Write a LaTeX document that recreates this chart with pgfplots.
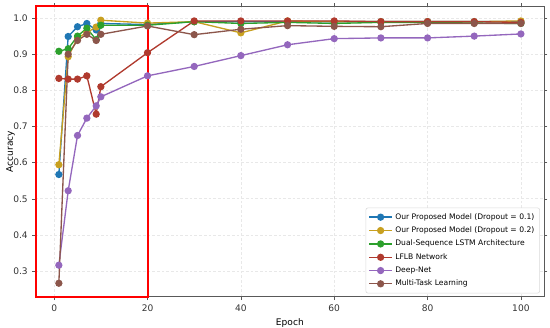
\documentclass[border=0pt]{standalone}
\usepackage{fontspec}
\setmainfont{DejaVu Sans}
\usepackage{pgfplots}
\pgfplotsset{compat=1.18}
\definecolor{tabblue}{HTML}{1F77B4}
\definecolor{taborange}{HTML}{C8A020}
\definecolor{tabgreen}{HTML}{2CA02C}
\definecolor{tabred}{HTML}{B03A2E}
\definecolor{tabpurple}{HTML}{9467BD}
\definecolor{tabbrown}{HTML}{8C564B}
\begin{document}
\begin{tikzpicture}
\begin{axis}[
  name=main,
  scale only axis,
  width=381pt, height=217.5pt,
  xmin=-3.95, xmax=104.95,
  ymin=0.2285, ymax=1.0315,
  xtick={0,20,40,60,80,100},
  ytick={0.3,0.4,0.5,0.6,0.7,0.8,0.9,1.0},
  yticklabel style={/pgf/number format/.cd,fixed,fixed zerofill,precision=1},
  /pgf/number format/assume math mode=true,
  tick label style={font=\fontsize{6.8}{8}\selectfont, color=black!80},
  label style={font=\fontsize{6.8}{8}\selectfont},
  xlabel={Epoch}, ylabel={Accuracy},
  xlabel style={yshift=2pt},
  ylabel style={at={(axis description cs:0,0.5)}, anchor=center, yshift=19pt},
  grid=major,
  major grid style={dash pattern=on 2pt off 1.5pt, gray!18, line width=0.4pt},
  axis line style={gray!70!black, line width=0.6pt},
  tick style={gray!70!black},
  tick align=outside,
  major tick length=2.5pt,
  clip=false,
  legend style={at={(0.992,0.012)}, anchor=south east, font=\fontsize{5.7}{7}\selectfont, draw=gray!30, rounded corners=1.5pt, row sep=0.2pt, inner sep=2pt},
  legend cell align=left,
  every axis plot/.append style={line width=1pt, mark=*, mark size=2.2pt},
]
\addplot[color=tabblue, mark options={fill=tabblue}] coordinates {
(1,0.567)(3,0.949)(5,0.976)(7,0.985)(9,0.967)(10,0.985)(20,0.982)(30,0.990)(40,0.990)(50,0.990)(60,0.990)(70,0.990)(80,0.990)(90,0.990)(100,0.990)};
\addlegendentry{Our Proposed Model (Dropout = 0.1)}
\addplot[color=taborange, mark options={fill=taborange}] coordinates {
(1,0.594)(3,0.893)(5,0.945)(7,0.960)(9,0.975)(10,0.994)(20,0.986)(30,0.990)(40,0.959)(50,0.992)(60,0.990)(70,0.990)(80,0.990)(90,0.990)(100,0.992)};
\addlegendentry{Our Proposed Model (Dropout = 0.2)}
\addplot[color=tabgreen, mark options={fill=tabgreen}] coordinates {
(1,0.908)(3,0.915)(5,0.950)(7,0.972)(9,0.940)(10,0.980)(20,0.980)(30,0.990)(40,0.985)(50,0.988)(60,0.985)(70,0.988)(80,0.988)(90,0.986)(100,0.985)};
\addlegendentry{Dual-Sequence LSTM Architecture}
\addplot[color=tabred, mark options={fill=tabred}] coordinates {
(1,0.833)(3,0.831)(5,0.831)(7,0.840)(9,0.734)(10,0.810)(20,0.904)(30,0.992)(40,0.992)(50,0.992)(60,0.992)(70,0.990)(80,0.990)(90,0.990)(100,0.988)};
\addlegendentry{LFLB Network}
\addplot[color=tabpurple, mark options={fill=tabpurple}] coordinates {
(1,0.316)(3,0.522)(5,0.675)(7,0.723)(9,0.757)(10,0.782)(20,0.840)(30,0.866)(40,0.896)(50,0.926)(60,0.943)(70,0.945)(80,0.945)(90,0.950)(100,0.956)};
\addlegendentry{Deep-Net}
\addplot[color=tabbrown, mark options={fill=tabbrown}] coordinates {
(1,0.266)(3,0.900)(5,0.938)(7,0.955)(9,0.938)(10,0.955)(20,0.978)(30,0.954)(40,0.969)(50,0.979)(60,0.977)(70,0.976)(80,0.985)(90,0.985)(100,0.985)};
\addlegendentry{Multi-Task Learning}
\draw[red, line width=1.5pt] (axis cs:-3.95,0.2285) rectangle (axis cs:20,1.0335);
\end{axis}
\pgfresetboundingbox
\path[use as bounding box] ([shift={(-26.8pt,-22.7pt)}]main.south west) rectangle ([shift={(4.5pt,5pt)}]main.north east);
\end{tikzpicture}
\end{document}
